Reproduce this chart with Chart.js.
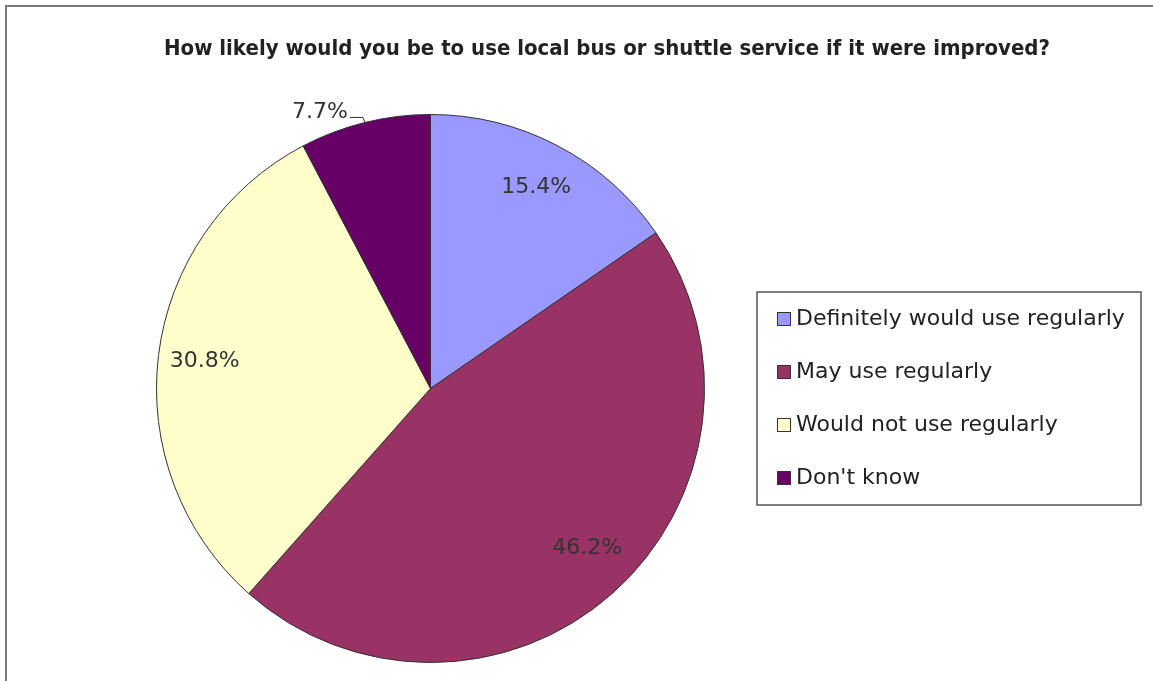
<!DOCTYPE html>
<html>
<head>
<meta charset="utf-8">
<script src="https://cdn.jsdelivr.net/npm/chart.js@4.4.1/dist/chart.umd.min.js"></script>
<style>
  html, body { margin: 0; padding: 0; background: #fff; }
  #wrap { width: 1153px; height: 681px; position: relative; }
</style>
</head>
<body>
<div id="wrap"><canvas id="pie"></canvas></div>
<script>
// data
const chartTitle = 'How likely would you be to use local bus or shuttle service if it were improved?';
const categories = ['Definitely would use regularly', 'May use regularly', 'Would not use regularly', "Don't know"];
const shares = [15.4, 46.2, 30.8, 7.7];
const sliceColors = ['#9999FF', '#993366', '#FFFFCC', '#660066'];

// frame, title, slice labels and the boxed legend
const decorations = {
  id: 'decorations',
  beforeDraw(chart) {
    const ctx = chart.ctx;
    ctx.save();
    ctx.fillStyle = '#fff';
    ctx.fillRect(0, 0, chart.width, chart.height);
    ctx.strokeStyle = '#7a7a7a';
    ctx.lineWidth = 2;
    ctx.strokeRect(6, 6, chart.width + 20, chart.height + 20);
    ctx.restore();
  },
  afterDatasetsDraw(chart) {
    const ctx = chart.ctx;
    const arcs = chart.getDatasetMeta(0).data;
    ctx.save();

    // title
    ctx.fillStyle = '#222';
    ctx.font = 'bold 21px "DejaVu Sans"';
    ctx.textAlign = 'center';
    ctx.textBaseline = 'alphabetic';
    ctx.fillText(chartTitle, 607, 55, 886);

    // percentage labels
    ctx.font = '22px "DejaVu Sans"';
    ctx.fillStyle = '#333';
    arcs.forEach((arc, i) => {
      const p = arc.getProps(['x', 'y', 'startAngle', 'endAngle', 'outerRadius'], true);
      const mid = (p.startAngle + p.endAngle) / 2;
      const text = shares[i].toFixed(1) + '%';
      if (shares[i] < 10) {
        // small slice: label outside with a leader line
        const ex = p.x + Math.cos(mid) * p.outerRadius;
        const ey = p.y + Math.sin(mid) * p.outerRadius;
        ctx.strokeStyle = '#333';
        ctx.lineWidth = 1;
        ctx.beginPath();
        ctx.moveTo(ex, ey);
        ctx.lineTo(ex - 2, ey - 5);
        ctx.lineTo(ex - 15, ey - 5);
        ctx.stroke();
        ctx.textAlign = 'right';
        ctx.textBaseline = 'alphabetic';
        ctx.fillText(text, ex - 17, ey - 4);
      } else {
        const r = p.outerRadius * 0.83;
        ctx.textAlign = 'center';
        ctx.textBaseline = 'middle';
        ctx.fillText(text, p.x + Math.cos(mid) * r + (i === 1 ? 6 : 0), p.y + Math.sin(mid) * r - (i === 1 ? 10 : 0));
      }
    });

    // legend
    const lx = 757, ly = 292, lw = 384, lh = 213;
    ctx.strokeStyle = '#555';
    ctx.lineWidth = 1.5;
    ctx.strokeRect(lx, ly, lw, lh);
    ctx.font = '22px "DejaVu Sans"';
    ctx.textAlign = 'left';
    ctx.textBaseline = 'middle';
    categories.forEach((name, i) => {
      const cy = 319 + i * 53;
      ctx.fillStyle = sliceColors[i];
      ctx.fillRect(777.5, cy - 6.5, 13, 13);
      ctx.strokeStyle = '#333';
      ctx.lineWidth = 1;
      ctx.strokeRect(777.5, cy - 6.5, 13, 13);
      ctx.fillStyle = '#222';
      ctx.fillText(name, 796, cy, 330);
    });
    ctx.restore();
  }
};

new Chart(document.getElementById('pie'), {
  type: 'pie',
  data: {
    labels: categories,
    datasets: [{
      data: shares,
      backgroundColor: sliceColors,
      borderColor: '#333',
      borderWidth: 1,
      hoverOffset: 0,
      offset: 0
    }]
  },
  options: {
    responsive: true,
    maintainAspectRatio: false,
    animation: false,
    layout: { padding: { left: 156, right: 448, top: 114, bottom: 18 } },
    plugins: {
      legend: { display: false },
      title: { display: false },
      tooltip: { enabled: false }
    }
  },
  plugins: [decorations]
});
</script>
</body>
</html>
